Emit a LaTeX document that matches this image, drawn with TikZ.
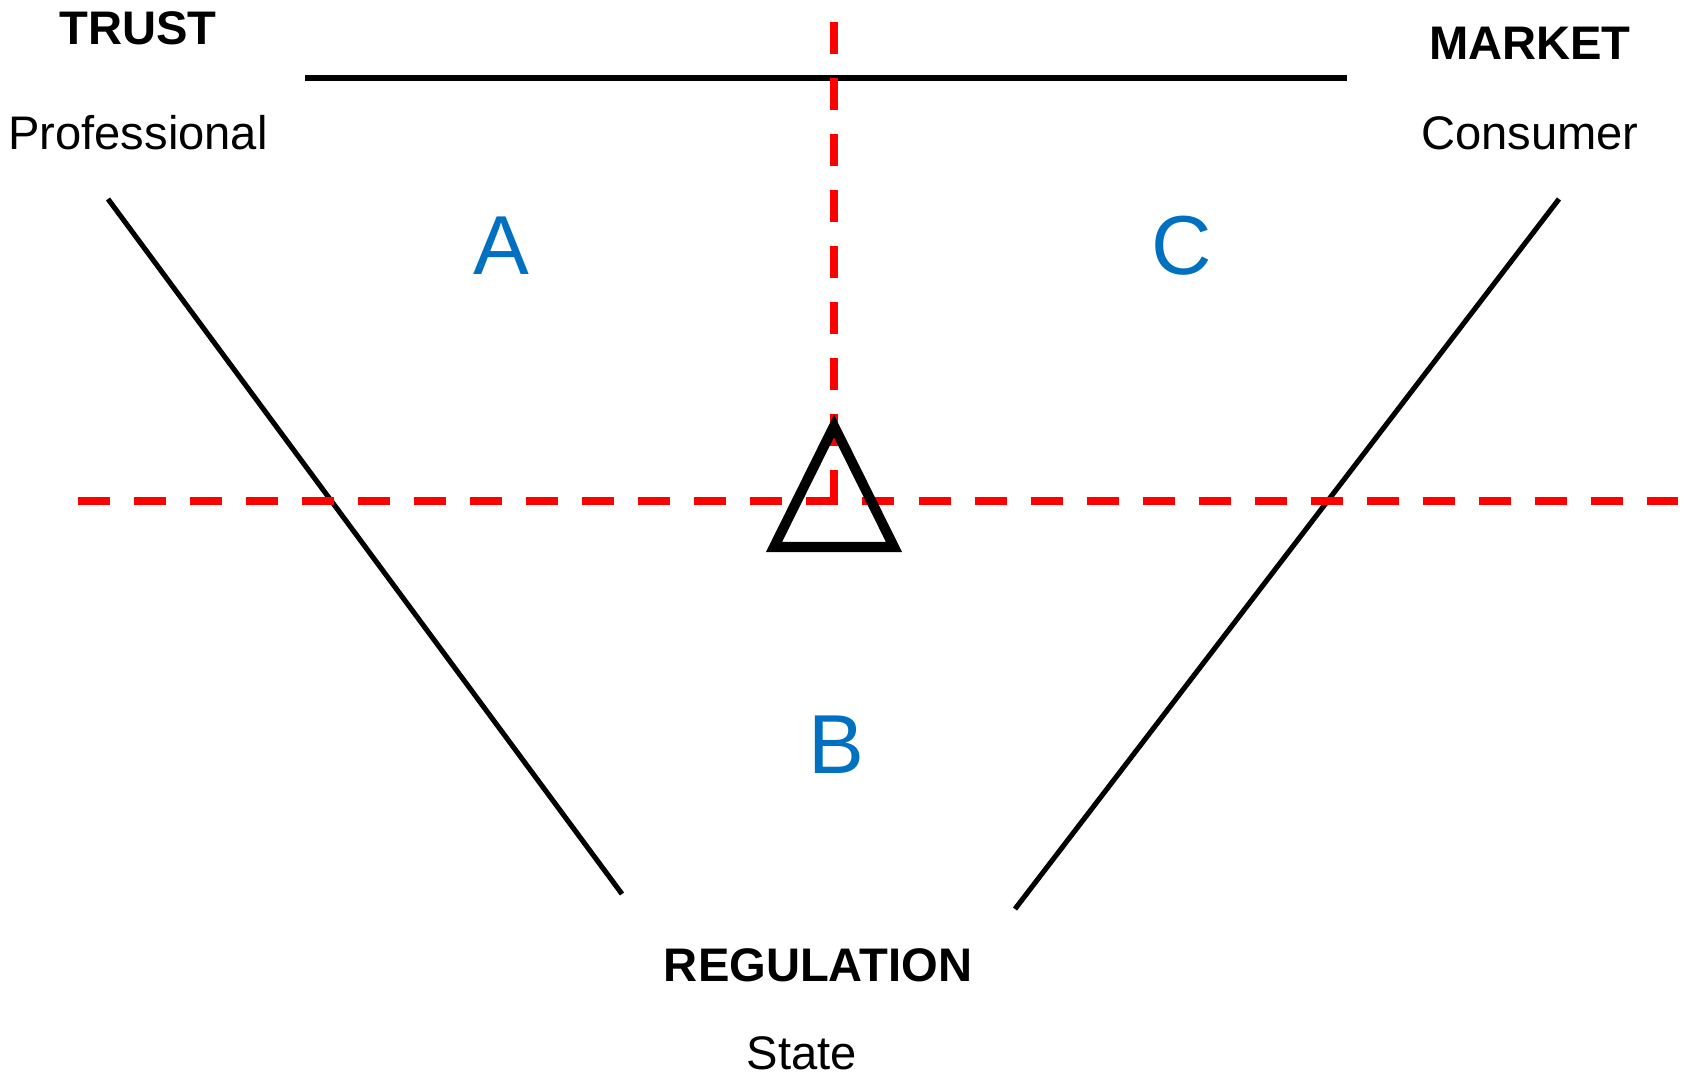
\documentclass[tikz,border=0pt]{standalone}
\usepackage{fontspec}
\setmainfont{Liberation Sans}
\definecolor{zoneblue}{HTML}{0070C0}

\begin{document}
\begin{tikzpicture}[x=0.01cm, y=-0.01cm,
    label/.style={font=\fontsize{13.4pt}{16pt}\selectfont, inner sep=0pt, anchor=base},
    head/.style={label, font=\fontsize{13.4pt}{16pt}\selectfont\bfseries},
    zone/.style={font=\fontsize{23.8pt}{28pt}\selectfont, text=zoneblue, inner sep=0pt, anchor=base},
    guide/.style={red, line width=2.1pt, dash pattern=on 0.32cm off 0.24cm}]
  \useasboundingbox (0,0) rectangle (1690,1080);

  \coordinate (topL) at (305,78);
  \coordinate (topR) at (1347,78);
  \coordinate (leftA) at (108,199);
  \coordinate (leftB) at (622,894);
  \coordinate (rightA) at (1559,199);
  \coordinate (rightB) at (1015,909);
  \coordinate (vtop) at (834,22);
  \coordinate (vbot) at (834,502);
  \coordinate (hleft) at (78,501);
  \coordinate (hright) at (1678,501);

  \draw[line width=1.7pt] (topL) -- (topR);
  \draw[line width=1.45pt] (leftA) -- (leftB);
  \draw[line width=1.45pt] (rightA) -- (rightB);

  \draw[guide] (vtop) -- (vbot);
  \draw[guide] (hleft) -- (hright);

  \draw[line width=2.85pt, line join=miter]
    (834,426) -- (894,547) -- (774,547) -- cycle;

  \node[head] (trust) at (138,45) {TRUST};
  \node[label] (prof) at (138,150) {Professional};
  \node[head] (market) at (1530,60) {MARKET};
  \node[label] (cons) at (1530,150) {Consumer};
  \node[head] (reg) at (818,982) {REGULATION};
  \node[label] (state) at (802,1070) {State};

  \node[zone] (A) at (501,275) {A};
  \node[zone] (B) at (836,774) {B};
  \node[zone] (C) at (1182,275) {C};
\end{tikzpicture}
\end{document}
